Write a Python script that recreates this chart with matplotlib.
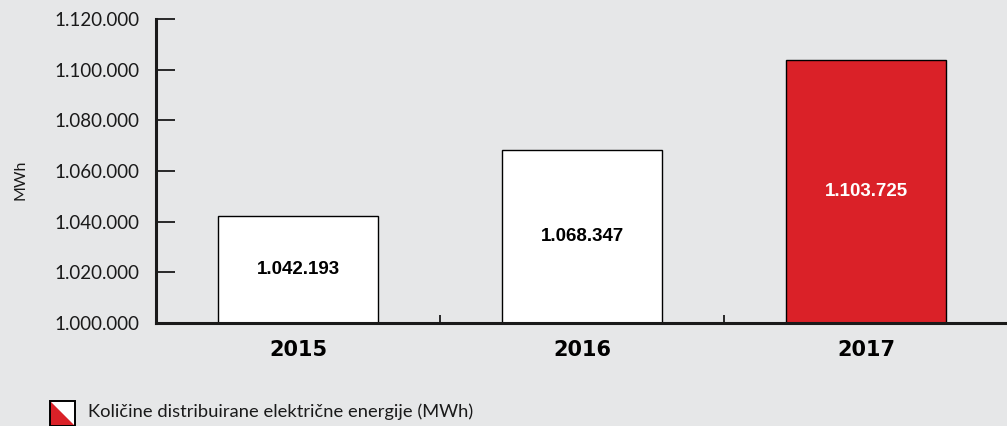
import matplotlib
matplotlib.use("Agg")
import matplotlib.pyplot as plt
from matplotlib.patches import Polygon, Rectangle

years = ["2015", "2016", "2017"]
values = [1042193, 1068347, 1103725]
value_labels = ["1.042.193", "1.068.347", "1.103.725"]
yticks = [1000000, 1020000, 1040000, 1060000, 1080000, 1100000, 1120000]
ytick_labels = ["1.000.000", "1.020.000", "1.040.000", "1.060.000", "1.080.000", "1.100.000", "1.120.000"]
legend_label = "Količine distribuirane električne energije (MWh)"
ylabel = "MWh"

BG = "#e6e7e8"
RED = "#da2128"
base = 1000000

fig = plt.figure(figsize=(10.07, 4.26), dpi=100, facecolor=BG)
ax = fig.add_axes([156/1007, 103/426, 852/1007, 304/426], facecolor=BG)

colors = ["white", "white", RED]
xs = list(range(len(years)))
ax.bar(xs, [v - base for v in values], bottom=base, width=0.563,
       color=colors, edgecolor="black", linewidth=1.0, zorder=2)

for x, v, lab, c in zip(xs, values, value_labels, colors):
    ax.text(x, (base + v) / 2, lab, ha="center", va="center",
            fontsize=13.5, fontweight="bold", family="Liberation Sans",
            color="white" if c == RED else "black", zorder=3)

ax.set_xlim(-0.5, 2.5)
ax.set_ylim(1000000, 1120000)
ax.set_yticks(yticks)
ax.set_yticklabels(ytick_labels, family="Lato", fontsize=13.5, color="#1a1a1a")
ax.set_xticks([0.5, 1.5])
ax.set_xticklabels([])
ax.tick_params(axis="y", direction="in", length=14, width=1.3, pad=12, color="#1a1a1a")
ax.tick_params(axis="x", direction="in", length=6, width=1.3, color="#1a1a1a")

for x, y in zip(xs, years):
    ax.text(x, -0.09, y, transform=ax.get_xaxis_transform(), ha="center", va="center",
            fontsize=15, fontweight="bold", family="DejaVu Sans")

for s in ["top", "right"]:
    ax.spines[s].set_visible(False)
ax.spines["left"].set_linewidth(2.2)
ax.spines["bottom"].set_linewidth(2.2)
ax.spines["left"].set_color("#1a1a1a")
ax.spines["bottom"].set_color("#1a1a1a")

fig.text(20/1007, 1 - 180/426, ylabel, rotation=90, ha="center", va="center",
         family="Lato", fontsize=11.5, color="#1a1a1a")

# legend icon: white upper-right triangle, red lower-left triangle
x0, y0, w, h = 50/1007, 1 - 426/426, 25/1007, 25/426
fig.patches.append(Polygon([[x0, y0 + h], [x0 + w, y0 + h], [x0 + w, y0]], closed=True,
                           facecolor="white", edgecolor="none", transform=fig.transFigure))
fig.patches.append(Polygon([[x0, y0 + h], [x0, y0], [x0 + w, y0]], closed=True,
                           facecolor=RED, edgecolor="none", transform=fig.transFigure))
fig.patches.append(Rectangle((x0, y0), w, h, facecolor="none", edgecolor="black",
                             linewidth=1.4, transform=fig.transFigure))
fig.text(88/1007, 1 - 412/426, legend_label, ha="left", va="center",
         family="Lato", fontsize=13.2, color="#1a1a1a")

fig.savefig("out.png", dpi=100, facecolor=BG)
